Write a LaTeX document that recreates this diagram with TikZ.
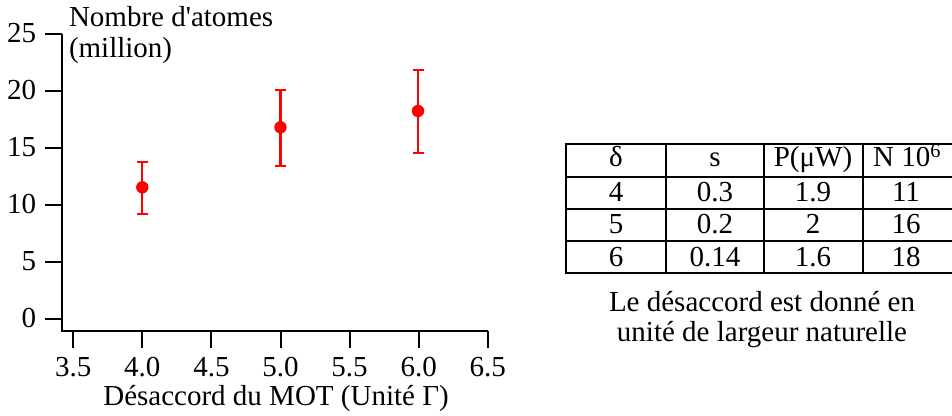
\documentclass[tikz,border=0pt]{standalone}
\usepackage{fontspec}
\setmainfont{Liberation Serif}
\begin{document}
\begin{tikzpicture}[x=1pt,y=-1pt,
  txt/.style={inner sep=0pt,outer sep=0pt,font=\fontsize{29}{33}\selectfont},
  axis/.style={line width=2pt,black},
  err/.style={line width=2.2pt,red},
  grid/.style={line width=2pt,black}]
\useasboundingbox (0,0) rectangle (952,415);
% axes
\coordinate (o) at (62,331);
\coordinate (ytop) at (62,34);
\coordinate (xend) at (487.5,331);
\draw[axis] (ytop) -- (o) -- (xend);
% y ticks
\foreach \v/\l in {0/0,5/5,10/10,15/15,20/20,25/25}{
  \coordinate (yt\v) at (62,{319-11.4*\v});
  \draw[axis] (yt\v) -- ++(-17,0);
  \node[txt,anchor=base east] (yl\v) at (36,{319-11.4*\v+8.5}) {\l};
}
% x ticks
\foreach \i/\l in {0/3.5,1/4.0,2/4.5,3/5.0,4/5.5,5/6.0,6/6.5}{
  \coordinate (xt\i) at ({73.3+69.07*\i},331);
  \draw[axis] (xt\i) -- ++(0,17);
  \node[txt,anchor=base] (xl\i) at ({73.3+69.07*\i},376) {\l};
}
\node[txt,anchor=base] (xtitle) at (276,405) {Désaccord du MOT (Unité Γ)};
\node[txt,anchor=base west] (ytitle) at (69,26.5) {Nombre d\textquotesingle atomes};
\node[txt,anchor=base west] (ytitle2) at (69,57) {(million)};
% data
\foreach \n/\x/\c/\t/\b in {a/142.3/187.3/161.7/214.3, b/280.5/127.3/89.7/166.3, c/418.0/111/70/153.3}{
  \coordinate (t\n) at (\x,\t);
  \coordinate (b\n) at (\x,\b);
  \draw[err] (t\n) -- (b\n);
  \draw[err] ([xshift=-5.5]t\n) -- ([xshift=5.5]t\n);
  \draw[err] ([xshift=-5.5]b\n) -- ([xshift=5.5]b\n);
  \fill[red] (\x,\c) circle (6.2);
}
% table
\coordinate (T1) at (566,144);
\draw[grid] (952,144) -- (566,144) -- (566,273.3) -- (952,273.3);
\foreach \yy in {176.7,208.7,241.3}{ \draw[grid] (566,\yy) -- (952,\yy); }
\foreach \xx in {666,764,862.5}{ \draw[grid] (\xx,144) -- (\xx,273.3); }
\node[txt,anchor=base] (h1) at (616,166.7) {δ};
\node[txt,anchor=base] (h2) at (715,166.7) {s};
\node[txt,anchor=base] (h3) at (813,166.7) {P(μW)};
\node[txt,anchor=base] (h4) at (907,166.7) {N 10\textsuperscript{6}};
\foreach \r/\yb/\a/\b/\c/\d in {1/201.7/4/0.3/1.9/11, 2/233.9/5/0.2/2/16, 3/266.3/6/0.14/1.6/18}{
  \node[txt,anchor=base] (r\r a) at (616,\yb) {\a};
  \node[txt,anchor=base] (r\r b) at (715,\yb) {\b};
  \node[txt,anchor=base] (r\r c) at (813,\yb) {\c};
  \node[txt,anchor=base] (r\r d) at (906,\yb) {\d};
}
\node[txt,anchor=base] (cap1) at (762,311.5) {Le désaccord est donné en};
\node[txt,anchor=base] (cap2) at (762,341.5) {unité de largeur naturelle};
\end{tikzpicture}
\end{document}
